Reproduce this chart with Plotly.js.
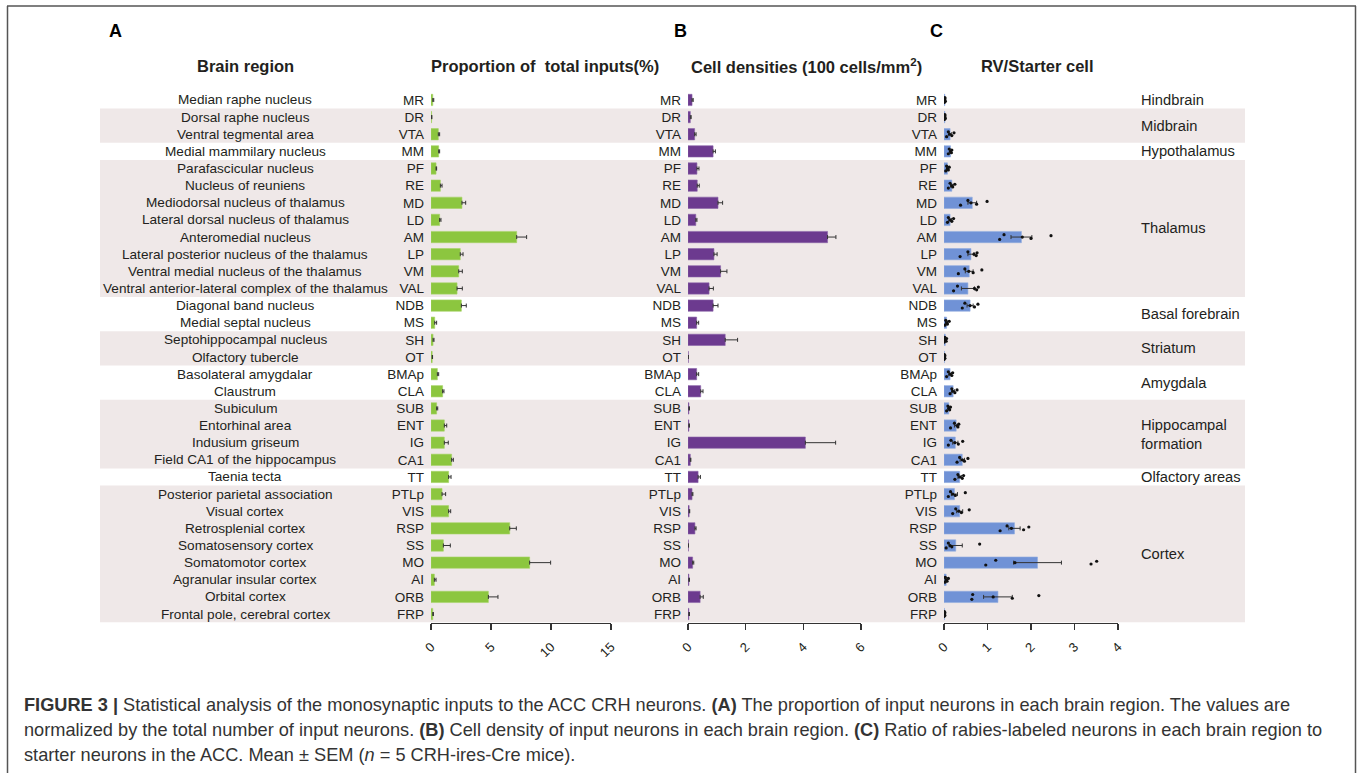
<!DOCTYPE html>
<html>
<head>
<meta charset="utf-8">
<script src="https://cdn.plot.ly/plotly-3.0.1.min.js"></script>
<style>html,body{margin:0;padding:0;background:#fff;}#chart{width:1357px;height:773px;}</style>
</head>
<body>
<div id="chart"></div>
<script>
// ---------- DATA ----------
const regions = ["MR","DR","VTA","MM","PF","RE","MD","LD","AM","LP","VM","VAL","NDB","MS","SH","OT","BMAp","CLA","SUB","ENT","IG","CA1","TT","PTLp","VIS","RSP","SS","MO","AI","ORB","FRP"];
const fullNames = ["Median raphe nucleus","Dorsal raphe nucleus","Ventral tegmental area","Medial mammilary nucleus","Parafascicular nucleus","Nucleus of reuniens","Mediodorsal nucleus of thalamus","Lateral dorsal nucleus of thalamus","Anteromedial nucleus","Lateral posterior nucleus of the thalamus","Ventral medial nucleus of the thalamus","Ventral anterior-lateral complex of the thalamus","Diagonal band nucleus","Medial septal nucleus","Septohippocampal nucleus","Olfactory tubercle","Basolateral amygdalar","Claustrum","Subiculum","Entorhinal area","Indusium griseum","Field CA1 of the hippocampus","Taenia tecta","Posterior parietal association","Visual cortex","Retrosplenial cortex","Somatosensory cortex","Somatomotor cortex","Agranular insular cortex","Orbital cortex","Frontal pole, cerebral cortex"];

// A: proportion of total inputs (%)
const propMean = [0.15,0.05,0.61,0.64,0.42,0.78,2.58,0.72,7.14,2.44,2.31,2.17,2.53,0.31,0.17,0.10,0.53,0.97,0.47,1.11,1.11,1.72,1.47,0.92,1.47,6.56,1.03,8.22,0.28,4.78,0.15];
const propSem  = [0.08,0.02,0.11,0.08,0.05,0.14,0.31,0.11,0.83,0.23,0.30,0.44,0.41,0.16,0.08,0.03,0.11,0.11,0.09,0.20,0.33,0.14,0.20,0.30,0.17,0.55,0.58,1.75,0.14,0.80,0.05];
// B: cell densities (100 cells/mm2)
const densMean = [0.14,0.08,0.23,0.87,0.31,0.32,1.04,0.27,4.84,0.90,1.13,0.73,0.87,0.30,1.29,0.01,0.30,0.44,0.03,0.03,4.07,0.08,0.35,0.14,0.04,0.24,0.01,0.16,0.03,0.42,0.03];
const densSem  = [0.04,0.03,0.05,0.08,0.07,0.07,0.16,0.04,0.29,0.11,0.22,0.15,0.17,0.07,0.43,0.00,0.07,0.08,0.02,0.02,1.05,0.02,0.08,0.03,0.02,0.04,0.00,0.04,0.02,0.11,0.02];
// C: RV / starter cell
const ratioMean = [0.02,0.02,0.14,0.15,0.08,0.18,0.65,0.14,1.78,0.62,0.58,0.55,0.60,0.06,0.03,0.01,0.14,0.21,0.11,0.28,0.26,0.42,0.36,0.24,0.36,1.62,0.27,2.15,0.05,1.24,0.01];
const ratioSem  = [0.01,0.01,0.03,0.02,0.02,0.03,0.10,0.03,0.24,0.07,0.09,0.15,0.07,0.02,0.01,0.01,0.03,0.03,0.02,0.04,0.06,0.05,0.04,0.07,0.07,0.13,0.15,0.55,0.02,0.33,0.01];
const ratioDots = [
  [0.01,0.02,0.02,0.03,0.02],[0.01,0.02,0.02,0.03,0.02],[0.06,0.10,0.13,0.18,0.23],[0.10,0.12,0.15,0.17,0.18],
  [0.04,0.06,0.08,0.10,0.12],[0.10,0.14,0.18,0.20,0.25],[0.38,0.55,0.62,0.75,0.99],[0.08,0.10,0.14,0.18,0.22],
  [1.28,1.38,1.80,2.00,2.46],[0.37,0.55,0.69,0.74,0.76],[0.33,0.48,0.57,0.67,0.87],[0.22,0.31,0.70,0.75,0.79],
  [0.42,0.48,0.60,0.70,0.78],[0.02,0.04,0.06,0.08,0.12],[0.00,0.02,0.03,0.05,0.06],[0.00,0.01,0.01,0.02,0.02],
  [0.06,0.10,0.14,0.18,0.20],[0.14,0.18,0.20,0.25,0.30],[0.06,0.09,0.11,0.13,0.15],[0.15,0.24,0.30,0.32,0.34],
  [0.10,0.16,0.25,0.33,0.43],[0.30,0.36,0.42,0.47,0.55],[0.25,0.32,0.36,0.42,0.45],[0.10,0.15,0.20,0.26,0.49],
  [0.20,0.27,0.34,0.40,0.58],[1.29,1.45,1.55,1.83,1.95],[0.05,0.10,0.14,0.18,0.82],[0.96,1.19,1.63,3.38,3.51],
  [0.02,0.03,0.05,0.07,0.10],[0.64,0.66,1.13,1.57,2.18],[0.00,0.01,0.01,0.02,0.02]
];
const ticksA = [0,5,10,15], ticksB = [0,2,4,6], ticksC = [0,1,2,3,4];

const groupNames = ["Hindbrain","Midbrain","Hypothalamus","Thalamus","Basal forebrain","Striatum","Amygdala","Hippocampal<br>formation","Olfactory areas","Cortex"];
const groupFirst = [0,1,3,4,12,14,16,18,22,23];
const groupLast  = [0,2,3,11,13,15,17,21,22,30];

// ---------- STYLE / LAYOUT ----------
const W = 1357, H = 773;
const px = v => v / W;
const py = v => 1 - v / H;
const JITTER = [0.14, -0.14, 0, 0.08, -0.08];
const FONT = "Arial, 'Liberation Sans', sans-serif";
const TXT = "#231f20";
const idx = regions.map((_, i) => i);
const zeros = regions.map(() => 0);
const yDom = [py(622.6), py(91.4)];

const err = (arr, minus) => ({type:'data', array:arr, arrayminus:minus, symmetric: !minus, color:'#333', thickness:1, width:2});

const traces = [
  {type:'bar', orientation:'h', x:propMean, y:idx, xaxis:'x', yaxis:'y', marker:{color:'#8cc63f', line:{color:'#a6d466', width:0.6}}, error_x:err(propSem, zeros), hoverinfo:'x'},
  {type:'bar', orientation:'h', x:densMean, y:idx, xaxis:'x2', yaxis:'y2', marker:{color:'#6c3a8f', line:{color:'#8a63a8', width:0.6}}, error_x:err(densSem, zeros), hoverinfo:'x'},
  {type:'bar', orientation:'h', x:ratioMean, y:idx, xaxis:'x3', yaxis:'y3', marker:{color:'#7092d6', line:{color:'#92acdf', width:0.6}}, error_x:err(ratioSem, null), hoverinfo:'x'}
];
const dx = [], dy = [];
ratioDots.forEach((row, i) => row.forEach((v, k) => { dx.push(v); dy.push(i + JITTER[k % JITTER.length]); }));
traces.push({type:'scatter', mode:'markers', x:dx, y:dy, xaxis:'x3', yaxis:'y3', marker:{color:'#111', size:3.2}, hoverinfo:'x'});

const yax = (anchor) => ({domain:yDom, range:[30.5,-0.5], anchor:anchor, tickmode:'array', tickvals:idx, ticktext:regions,
  ticks:'', showgrid:false, zeroline:false, showline:false, automargin:false, fixedrange:true,
  tickfont:{family:FONT, size:13.5, color:TXT}, ticklabelstandoff:6});
const xax = (x0, x1, range, tv, anchor) => ({domain:[px(x0), px(x1)], range:range, anchor:anchor, tickmode:'array', tickvals:tv,
  ticks:'outside', ticklen:6, tickwidth:1.3, tickcolor:'#333', showline:true, linecolor:'#333', linewidth:1.5,
  showgrid:false, zeroline:false, tickangle:-45, automargin:false, fixedrange:true, ticklabelstandoff:4,
  tickfont:{family:FONT, size:13, color:TXT}});

const shapes = [];
groupNames.forEach((g, i) => {
  if (i % 2 === 1) shapes.push({type:'rect', xref:'paper', yref:'y', x0:px(100), x1:px(1245), y0:groupFirst[i]-0.5, y1:groupLast[i]+0.5,
    fillcolor:'#efe8e8', line:{width:0}, layer:'below'});
});
// frame
shapes.push({type:'line', xref:'paper', yref:'paper', x0:px(7.5), x1:px(7.5), y0:py(6), y1:0, line:{color:'#555', width:1.5}});
shapes.push({type:'line', xref:'paper', yref:'paper', x0:px(7), x1:px(1356), y0:py(6), y1:py(6), line:{color:'#555', width:1.5}});
shapes.push({type:'line', xref:'paper', yref:'paper', x0:px(1355.5), x1:px(1355.5), y0:py(6), y1:0, line:{color:'#555', width:1.5}});

const annotations = [];
fullNames.forEach((n, i) => annotations.push({xref:'paper', yref:'y', x:px(245), y:i, xanchor:'center', yanchor:'middle', text:n, showarrow:false, font:{family:FONT, size:13.6, color:TXT}}));
groupNames.forEach((g, i) => annotations.push({xref:'paper', yref:'y', x:px(1139), y:(groupFirst[i]+groupLast[i])/2, xanchor:'left', yanchor:'middle', align:'left', text:g, showarrow:false, font:{family:FONT, size:14.7, color:TXT}}));
const hdr = (x, t) => ({xref:'paper', yref:'paper', x:px(x), y:py(66), xanchor:'center', yanchor:'middle', text:'<b>'+t+'</b>', showarrow:false, font:{family:FONT, size:16.5, color:TXT}});
annotations.push(hdr(245,'Brain region'), hdr(545,'Proportion of  total inputs(%)'), hdr(806,'Cell densities (100 cells/mm<sup>2</sup>)'), hdr(1037,'RV/Starter cell'));
const letter = (x, t) => ({xref:'paper', yref:'paper', x:px(x), y:py(31), xanchor:'center', yanchor:'middle', text:'<b>'+t+'</b>', showarrow:false, font:{family:FONT, size:18, color:'#000'}});
annotations.push(letter(115,'A'), letter(680,'B'), letter(936,'C'));
const captionLines = [
  "<b>FIGURE 3 |</b> Statistical analysis of the monosynaptic inputs to the ACC CRH neurons. <b>(A)</b> The proportion of input neurons in each brain region. The values are",
  "normalized by the total number of input neurons. <b>(B)</b> Cell density of input neurons in each brain region. <b>(C)</b> Ratio of rabies-labeled neurons in each brain region to",
  "starter neurons in the ACC. Mean ± SEM (<i>n</i> = 5 CRH-ires-Cre mice)."
];
const capY = [705, 730, 755];
captionLines.forEach((t, i) => annotations.push({xref:'paper', yref:'paper', x:px(22), y:py(capY[i]), xanchor:'left', yanchor:'middle', text:t, showarrow:false, font:{family:FONT, size:18.2, color:'#333'}}));

const layout = {
  width:W, height:H, margin:{l:0, r:0, t:0, b:0}, paper_bgcolor:'#fff', plot_bgcolor:'rgba(0,0,0,0)',
  showlegend:false, bargap:0.34,
  xaxis: xax(431, 611, [0,15], ticksA, 'y'),
  xaxis2: xax(688, 861, [0,6], ticksB, 'y2'),
  xaxis3: xax(944, 1118, [0,4], ticksC, 'y3'),
  yaxis: yax('x'), yaxis2: yax('x2'), yaxis3: yax('x3'),
  shapes: shapes, annotations: annotations
};
Plotly.newPlot('chart', traces, layout, {displayModeBar:false, staticPlot:true});
</script>
</body>
</html>
